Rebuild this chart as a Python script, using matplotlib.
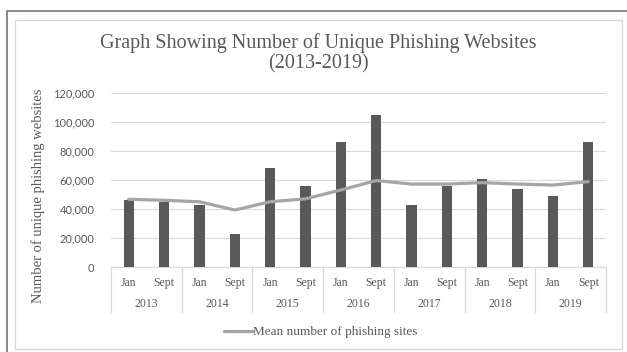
import matplotlib
matplotlib.use("Agg")
import matplotlib.pyplot as plt
from matplotlib.patches import Rectangle
import numpy as np

years = ["2013", "2014", "2015", "2016", "2017", "2018", "2019"]
months = ["Jan", "Sept"]
unique_sites = [46200, 45000, 42800, 22500, 68000, 55900, 86400,
                104800, 42500, 56100, 60500, 53600, 48800, 86000]
mean_sites = [46700, 46000, 45000, 39300, 45000, 47000, 53100,
              59600, 57200, 57200, 58200, 57200, 56500, 58900]
yticks = [0, 20000, 40000, 60000, 80000, 100000, 120000]

W, H = 627, 352
fig = plt.figure(figsize=(W / 100, H / 100), dpi=100)
fig.patch.set_facecolor("white")

# frames
fig.patches.append(Rectangle((7 / W, 1 - 360 / H), 640 / W, (360 - 11) / H,
                             transform=fig.transFigure, fill=False,
                             edgecolor="#7f7f7f", lw=1.3))
fig.patches.append(Rectangle((15 / W, 1 - 349 / H), (622 - 15) / W, (349 - 20) / H,
                             transform=fig.transFigure, fill=False,
                             edgecolor="#d9d9d9", lw=1.0))

ax = fig.add_axes([111 / W, 1 - 267 / H, 495 / W, 174 / H])
n = len(unique_sites)
x = np.arange(n) + 0.5
ax.bar(x, unique_sites, width=0.29, color="#595959", zorder=3)
line, = ax.plot(x, mean_sites, color="#a5a5a5", lw=2.3, zorder=4,
                solid_capstyle="round")
ax.set_xlim(0, n)
ax.set_ylim(0, 120000)
ax.set_yticks(yticks)
ax.set_yticklabels([f"{v:,}" for v in yticks], family="Lato", fontsize=8,
                   color="#595959")
ax.tick_params(axis="y", length=0, pad=12)
ax.set_xticks([])
ax.grid(axis="y", color="#d9d9d9", lw=0.8, zorder=0)
for s in ["top", "right", "left"]:
    ax.spines[s].set_visible(False)
ax.spines["bottom"].set_color("#d9d9d9")
ax.spines["bottom"].set_linewidth(0.9)

trans = ax.get_xaxis_transform()
for i in range(n):
    ax.text(x[i], -0.092, months[i % 2], transform=trans, ha="center",
            va="center", family="Liberation Serif", fontsize=8.5,
            color="#595959")
for j, yr in enumerate(years):
    ax.text(2 * j + 1, -0.213, yr, transform=trans, ha="center",
            va="center", family="Liberation Serif", fontsize=8.5,
            color="#595959")
for k in range(0, n + 1, 2):
    ax.plot([k, k], [0, -0.259], transform=trans, color="#d9d9d9",
            lw=0.9, clip_on=False)

ax.set_ylabel("Number of unique phishing websites", family="Liberation Serif",
              fontsize=10.5, color="#595959")
ax.yaxis.set_label_coords(38 / W, 1 - 196 / H, transform=fig.transFigure)
ax.yaxis.label.set_va("center")

fig.text(318 / W, 1 - 53 / H,
         "Graph Showing Number of Unique Phishing Websites\n(2013-2019)",
         ha="center", va="center", family="Liberation Serif", fontsize=14.5,
         color="#595959", linespacing=1.1)

fig.legend([line], ["Mean number of phishing sites"], loc="center",
           bbox_to_anchor=(321 / W, 1 - 332 / H), frameon=False,
           prop={"family": "Liberation Serif", "size": 9.5},
           handlelength=2.2, handletextpad=0.0, labelcolor="#595959")

fig.savefig("out.png", dpi=100, facecolor="white")
